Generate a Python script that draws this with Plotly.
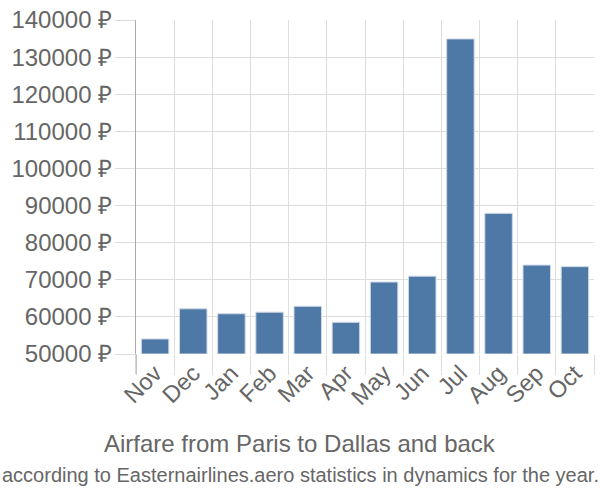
import plotly.graph_objects as go

months = ["Nov", "Dec", "Jan", "Feb", "Mar", "Apr", "May", "Jun", "Jul", "Aug", "Sep", "Oct"]
prices = [54050, 62170, 60840, 61270, 62860, 58540, 69390, 70970, 134900, 87900, 73960, 73540]
y_ticks = [50000, 60000, 70000, 80000, 90000, 100000, 110000, 120000, 130000, 140000]
y_labels = [f"{v} ₽" for v in y_ticks]
title = "Airfare from Paris to Dallas and back"
subtitle = "according to Easternairlines.aero statistics in dynamics for the year."

FONT = "Liberation Sans, Arial, sans-serif"
GRAY = "#666666"

fig = go.Figure()
fig.add_trace(go.Bar(
    x=months, y=[p - 50000 for p in prices], base=50000,
    marker=dict(color="#4e78a6", line=dict(color="#cfd9e6", width=1)),
    hoverinfo="skip",
))

fig.update_layout(
    width=600, height=500,
    margin=dict(l=136, r=6, t=14, b=146),
    paper_bgcolor="white", plot_bgcolor="white",
    bargap=0.28,
    showlegend=False,
    font=dict(family=FONT, color=GRAY, size=20),
    xaxis=dict(
        tickson="boundaries", showgrid=True, gridcolor="#dddddd", gridwidth=1,
        ticks="outside", ticklen=20, tickcolor="#dddddd", tickwidth=1,
        tickangle=-45, tickfont=dict(size=23.5, color=GRAY, family=FONT),
        showline=False, zeroline=False, fixedrange=True,
    ),
    yaxis=dict(
        range=[50000, 140000], tickvals=y_ticks, ticktext=y_labels,
        showgrid=True, gridcolor="#dddddd", gridwidth=1,
        ticks="outside", ticklen=20, tickcolor="#dddddd", tickwidth=1,
        tickfont=dict(size=24, color=GRAY, family=FONT),
        ticklabelstandoff=-2,
        showline=True, linecolor="#aaaaaa", linewidth=1,
        zeroline=False, fixedrange=True,
    ),
)

fig.add_shape(type="line", xref="paper", yref="paper", x0=0, x1=0, y0=-0.06, y1=0,
              line=dict(color="#aaaaaa", width=1))

cx = (300 - 136) / 458
fig.add_annotation(text=title, xref="paper", yref="paper", x=cx, y=-0.268,
                   showarrow=False, font=dict(size=24, color=GRAY, family=FONT),
                   xanchor="center", yanchor="middle")
fig.add_annotation(text=subtitle, xref="paper", yref="paper", x=cx, y=-0.362,
                   showarrow=False, font=dict(size=20, color=GRAY, family=FONT),
                   xanchor="center", yanchor="middle")

fig.write_html("out.html")
